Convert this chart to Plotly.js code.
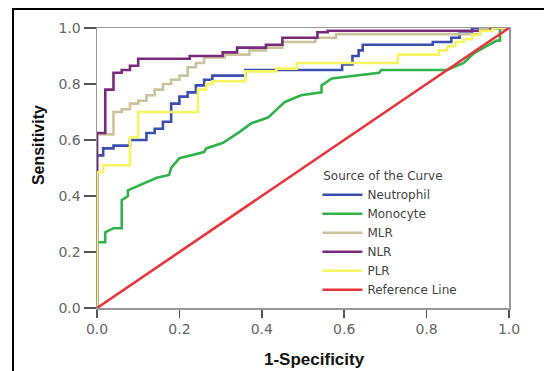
<!DOCTYPE html>
<html>
<head>
<meta charset="utf-8">
<script src="https://cdn.plot.ly/plotly-3.0.1.min.js"></script>
<style>
html,body{margin:0;padding:0;background:#fff;overflow:hidden;}
#wrap{position:relative;width:544px;height:371px;overflow:hidden;}
#chart{width:544px;height:371px;}
#frame{position:absolute;left:12px;top:8px;width:700px;height:500px;border-left:2.5px solid #000;border-top:2.5px solid #000;pointer-events:none;}
</style>
</head>
<body>
<div id="wrap"><div id="chart"></div><div id="frame"></div></div>
<script>
// Series names
const seriesNames = ["Neutrophil", "Monocyte", "MLR", "NLR", "PLR", "Reference Line"];

// Neutrophil ROC (step curve)
const neutroX = [0, 0, 0.015, 0.04, 0.08, 0.12, 0.14, 0.16, 0.18, 0.20, 0.22, 0.24, 0.26, 0.28, 0.36, 0.595, 0.62, 0.635, 0.645, 0.815, 0.86, 0.88, 0.91, 1];
const neutroY = [0, 0.545, 0.57, 0.58, 0.60, 0.625, 0.64, 0.665, 0.73, 0.755, 0.77, 0.795, 0.815, 0.83, 0.85, 0.87, 0.90, 0.92, 0.94, 0.95, 0.965, 0.98, 1.0, 1.0];

// Monocyte ROC (traced corners)
const monoX = [0, 0, 0.02, 0.02, 0.04, 0.06, 0.06, 0.075, 0.075, 0.105, 0.145, 0.175, 0.18, 0.20, 0.225, 0.26, 0.265, 0.306, 0.347, 0.375, 0.415, 0.44, 0.455, 0.495, 0.545, 0.545, 0.57, 0.685, 0.69, 0.85, 0.89, 0.915, 0.94, 0.97, 0.978, 0.978, 1];
const monoY = [0, 0.235, 0.235, 0.27, 0.285, 0.285, 0.385, 0.40, 0.42, 0.44, 0.465, 0.475, 0.50, 0.535, 0.545, 0.557, 0.57, 0.59, 0.63, 0.66, 0.68, 0.715, 0.735, 0.76, 0.77, 0.795, 0.82, 0.84, 0.85, 0.85, 0.875, 0.91, 0.93, 0.955, 0.955, 1.0, 1.0];

// MLR ROC (step curve)
const mlrX = [0, 0, 0.04, 0.06, 0.08, 0.10, 0.12, 0.14, 0.16, 0.18, 0.20, 0.22, 0.24, 0.26, 0.31, 0.37, 0.41, 0.45, 0.53, 0.58, 0.93, 1];
const mlrY = [0, 0.62, 0.70, 0.71, 0.73, 0.74, 0.76, 0.78, 0.80, 0.815, 0.83, 0.86, 0.875, 0.895, 0.905, 0.92, 0.93, 0.95, 0.965, 0.978, 1.0, 1.0];

// NLR ROC (step curve)
const nlrX = [0, 0, 0.02, 0.04, 0.06, 0.08, 0.10, 0.225, 0.305, 0.34, 0.41, 0.45, 0.535, 0.56, 0.955, 1];
const nlrY = [0, 0.625, 0.78, 0.84, 0.85, 0.865, 0.89, 0.90, 0.913, 0.93, 0.94, 0.965, 0.985, 0.99, 1.0, 1.0];

// PLR ROC (step curve)
const plrX = [0, 0, 0.015, 0.08, 0.10, 0.245, 0.265, 0.28, 0.36, 0.435, 0.485, 0.73, 0.83, 0.85, 0.87, 0.89, 0.91, 0.93, 0.96, 1];
const plrY = [0, 0.485, 0.51, 0.61, 0.70, 0.78, 0.80, 0.81, 0.845, 0.855, 0.875, 0.905, 0.92, 0.935, 0.95, 0.96, 0.975, 0.99, 1.0, 1.0];

// Reference diagonal
const refX = [0, 1];
const refY = [0, 1];

// Axis ticks
const tickVals = [0, 0.2, 0.4, 0.6, 0.8, 1.0];
const tickText = ["0.0", "0.2", "0.4", "0.6", "0.8", "1.0"];

const colors = ["#3b4fae", "#2fb34a", "#cbc39c", "#7a2a7c", "#f5f560", "#e8353b"];

function tr(x, y, i, shape) {
  return {x: x, y: y, name: seriesNames[i], type: "scatter", mode: "lines",
    line: {color: colors[i], width: 2.6, shape: shape}, hoverinfo: "skip"};
}

const data = [
  tr(neutroX, neutroY, 0, "hv"),
  tr(monoX, monoY, 1, "linear"),
  tr(mlrX, mlrY, 2, "hv"),
  tr(nlrX, nlrY, 3, "hv"),
  tr(plrX, plrY, 4, "hv"),
  tr(refX, refY, 5, "linear")
];

const tickFont = {family: "DejaVu Sans", size: 14, color: "#666"};
const legendFont = {family: "DejaVu Sans", size: 12, color: "#444"};
const layout = {
  width: 544, height: 371,
  margin: {l: 97, r: 35, t: 28, b: 63, pad: 0},
  paper_bgcolor: "#fff", plot_bgcolor: "#fff",
  showlegend: true,
  legend: {
    x: 0.535, y: 0.512, xanchor: "left", yanchor: "top",
    bgcolor: "rgba(0,0,0,0)", borderwidth: 0,
    itemwidth: 40, tracegroupgap: 0,
    font: legendFont,
    title: {text: " Source of the Curve", side: "top", font: legendFont}
  },
  xaxis: {
    range: [0, 1], tickvals: tickVals, ticktext: tickText, tickfont: tickFont,
    ticks: "outside", ticklen: 8, tickwidth: 1.5, tickcolor: "#555",
    showline: true, linecolor: "#999", linewidth: 1.5, mirror: true,
    showgrid: false, zeroline: false, fixedrange: true
  },
  yaxis: {
    range: [0, 1], tickvals: tickVals, ticktext: tickText, tickfont: tickFont,
    ticks: "outside", ticklen: 12, tickwidth: 1.5, tickcolor: "#555",
    showline: true, linecolor: "#999", linewidth: 1.5, mirror: true,
    showgrid: false, zeroline: false, fixedrange: true
  },
  annotations: [
    {text: "<b>1-Specificity</b>", xref: "paper", yref: "paper", x: 0.527, y: -0.185,
     xanchor: "center", yanchor: "middle", showarrow: false,
     font: {family: "Liberation Sans", size: 17, color: "#111"}},
    {text: "<b>Sensitivity</b>", xref: "paper", yref: "paper", x: -0.143, y: 0.582,
     xanchor: "center", yanchor: "middle", showarrow: false, textangle: -90,
     font: {family: "Liberation Sans", size: 16, color: "#111"}}
  ]
};

Plotly.newPlot("chart", data, layout, {staticPlot: true, displayModeBar: false});
</script>
</body>
</html>
